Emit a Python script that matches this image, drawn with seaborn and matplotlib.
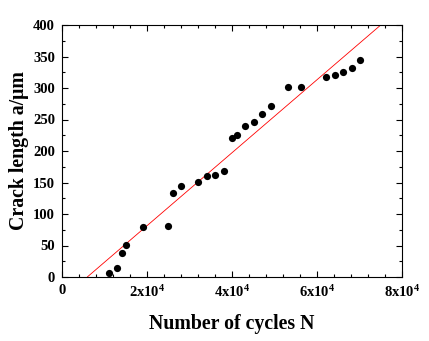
import matplotlib
matplotlib.use("Agg")
import matplotlib.pyplot as plt
import seaborn as sns
import pandas as pd
from matplotlib.ticker import MultipleLocator, FixedLocator, FixedFormatter

# ---- data ----
cycles = [11060, 13010, 14050, 15060, 19060, 25010, 26050, 28070, 32070, 34050,
          36000, 38120, 40070, 41110, 43060, 45110, 47130, 49110, 53110, 56170,
          62120, 64170, 66190, 68170, 70190]
crack = [7, 14, 38, 51, 79, 81, 134, 144, 151, 161,
         162, 168, 220, 226, 239, 246, 259, 272, 301, 302,
         318, 320, 325, 331, 344]
fit_cycles = [5950, 75000]
fit_crack = [0, 400]
x_ticks = [0, 20000, 40000, 60000, 80000]
x_tick_labels = ["0", "2x10$^{4}$", "4x10$^{4}$", "6x10$^{4}$", "8x10$^{4}$"]
y_ticks = [0, 50, 100, 150, 200, 250, 300, 350, 400]

df = pd.DataFrame({"N": cycles, "a": crack})
fit_df = pd.DataFrame({"N": fit_cycles, "a": fit_crack})

sns.set_style("ticks")
plt.rcParams["font.family"] = ["Liberation Serif", "DejaVu Serif"]
plt.rcParams["font.weight"] = "bold"
plt.rcParams["text.color"] = "black"
plt.rcParams["axes.labelcolor"] = "black"
plt.rcParams["xtick.color"] = "black"
plt.rcParams["ytick.color"] = "black"
plt.rcParams["mathtext.fontset"] = "custom"
plt.rcParams["mathtext.rm"] = "Liberation Serif:bold"
plt.rcParams["mathtext.bf"] = "Liberation Serif:bold"
plt.rcParams["mathtext.it"] = "Liberation Serif:bold"

fig = plt.figure(figsize=(4.29, 3.41), dpi=100)
ax = fig.add_axes([62/429, 1-277/341, 340/429, 252/341])

sns.lineplot(data=fit_df, x="N", y="a", ax=ax, color="red", linewidth=0.6)
sns.scatterplot(data=df, x="N", y="a", ax=ax, color="black", s=27,
                linewidth=0, marker="o", zorder=3)

ax.set_xlim(0, 80000)
ax.set_ylim(0, 400)
ax.xaxis.set_major_locator(FixedLocator(x_ticks))
ax.xaxis.set_major_formatter(FixedFormatter(x_tick_labels))
ax.xaxis.set_minor_locator(MultipleLocator(4000))
ax.yaxis.set_major_locator(FixedLocator(y_ticks))
ax.yaxis.set_minor_locator(MultipleLocator(25))

ax.tick_params(which="both", direction="in", top=True, right=True,
               width=0.8, labelsize=10.5, colors="black")
ax.tick_params(which="major", length=4)
ax.tick_params(which="minor", length=2.2)
ax.tick_params(axis="y", pad=5)
ax.tick_params(axis="x", pad=5)
for lab in ax.get_xticklabels() + ax.get_yticklabels():
    lab.set_fontweight("bold")

for sp in ax.spines.values():
    sp.set_visible(True)
    sp.set_linewidth(0.8)
    sp.set_color("black")

ax.set_xlabel("Number of cycles N", fontsize=14.3, fontweight="bold",
              labelpad=10, color="black")
ax.set_ylabel("Crack length a/μm", fontsize=14.3, fontweight="bold",
              labelpad=3, color="black")
ax.grid(False)

fig.savefig("out.png", dpi=100)
